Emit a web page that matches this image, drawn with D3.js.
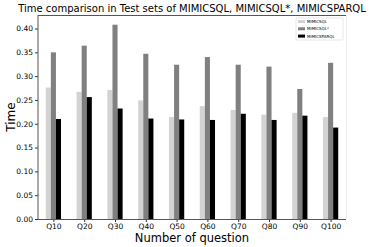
<!DOCTYPE html>
<html>
<head>
<meta charset="utf-8">
<script src="https://cdn.jsdelivr.net/npm/d3@7"></script>
<style>
  body { margin: 0; background: #fff; }
  svg text { font-family: "DejaVu Sans", sans-serif; fill: #000; }
</style>
</head>
<body>
<div id="plot"></div>
<script>
const w = 374;
const h = 247;
const margin = { left: 38, right: 28, top: 15, bottom: 28 };

const questions = ["Q10", "Q20", "Q30", "Q40", "Q50", "Q60", "Q70", "Q80", "Q90", "Q100"];
const mimicsql = [0.276, 0.267, 0.271, 0.249, 0.214, 0.237, 0.229, 0.219, 0.223, 0.214];
const mimicsqlStar = [0.350, 0.364, 0.408, 0.347, 0.324, 0.340, 0.324, 0.320, 0.273, 0.328];
const mimicsparql = [0.210, 0.256, 0.232, 0.211, 0.209, 0.208, 0.221, 0.208, 0.217, 0.192];
const yTicks = [0, 0.05, 0.1, 0.15, 0.2, 0.25, 0.3, 0.35, 0.4];

const series = [
  { name: "MIMICSQL", values: mimicsql, color: "#d3d3d3", offset: -1 },
  { name: "MIMICSQL*", values: mimicsqlStar, color: "#808080", offset: 0 },
  { name: "MIMICSPARQL", values: mimicsparql, color: "#000000", offset: 1 }
];

const barW = 0.165;

const xScale = d3.scaleLinear()
  .domain([-0.5, questions.length - 0.5])
  .range([margin.left, w - margin.right]);

const yMax = d3.max(mimicsqlStar) * 1.05;
const yScale = d3.scaleLinear()
  .domain([0, yMax])
  .range([h - margin.bottom, margin.top]);

const svg = d3.select("#plot").append("svg")
  .attr("width", w)
  .attr("height", h);

// bars
series.forEach(s => {
  svg.append("g").selectAll("rect")
    .data(s.values)
    .enter()
    .append("rect")
    .attr("x", (d, i) => xScale(i + s.offset * barW - barW / 2))
    .attr("width", xScale(barW) - xScale(0))
    .attr("y", d => yScale(d))
    .attr("height", d => yScale(0) - yScale(d))
    .attr("fill", s.color);
});

// axes
const xAxis = d3.axisBottom(xScale)
  .tickValues(d3.range(questions.length))
  .tickFormat(i => questions[i])
  .tickSize(3)
  .tickPadding(2);

const yAxis = d3.axisLeft(yScale)
  .tickValues(yTicks)
  .tickFormat(d3.format(".2f"))
  .tickSize(3)
  .tickPadding(2);

const gx = svg.append("g")
  .attr("transform", "translate(0," + (h - margin.bottom) + ")")
  .call(xAxis);

const gy = svg.append("g")
  .attr("transform", "translate(" + margin.left + ",0)")
  .call(yAxis);

[gx, gy].forEach(g => {
  g.select(".domain").remove();
  g.selectAll("line").attr("stroke", "#333");
  g.selectAll("text").style("font-size", "7.5px").style("fill", "#000");
});

// spines
const x0 = margin.left, x1 = w - margin.right;
const y0 = margin.top, y1 = h - margin.bottom;
svg.append("line").attr("x1", x0).attr("x2", x0).attr("y1", y0).attr("y2", y1).attr("stroke", "#555");
svg.append("line").attr("x1", x0).attr("x2", x1).attr("y1", y1 + 0.5).attr("y2", y1 + 0.5).attr("stroke", "#555");
svg.append("line").attr("x1", x0).attr("x2", x1).attr("y1", y0 + 0.5).attr("y2", y0 + 0.5).attr("stroke", "#555");
svg.append("line").attr("x1", x1 + 0.5).attr("x2", x1 + 0.5).attr("y1", y0).attr("y2", y1).attr("stroke", "#eee");

// legend
const legend = svg.append("g").attr("transform", "translate(296,18)");
legend.append("rect")
  .attr("x", 0).attr("y", 0)
  .attr("width", 47).attr("height", 22)
  .attr("fill", "#fff")
  .attr("stroke", "#ddd")
  .attr("stroke-width", 0.7)
  .attr("rx", 1);

series.forEach((s, i) => {
  legend.append("rect")
    .attr("x", 2)
    .attr("y", 2 + i * 7.3)
    .attr("width", 7)
    .attr("height", 3)
    .attr("fill", s.color);
  legend.append("text")
    .attr("x", 11)
    .attr("y", 5 + i * 7.3)
    .style("font-size", "4px")
    .text(s.name);
});

// title and labels
svg.append("text")
  .attr("x", (x0 + x1) / 2)
  .attr("y", 12)
  .attr("text-anchor", "middle")
  .style("font-size", "10px")
  .text("Time comparison in Test sets of MIMICSQL, MIMICSQL*, MIMICSPARQL");

svg.append("text")
  .attr("x", (x0 + x1) / 2)
  .attr("y", 242)
  .attr("text-anchor", "middle")
  .style("font-size", "11.5px")
  .text("Number of question");

svg.append("text")
  .attr("transform", "translate(15," + ((y0 + y1) / 2) + ") rotate(-90)")
  .attr("text-anchor", "middle")
  .style("font-size", "12px")
  .text("Time");
</script>
</body>
</html>
